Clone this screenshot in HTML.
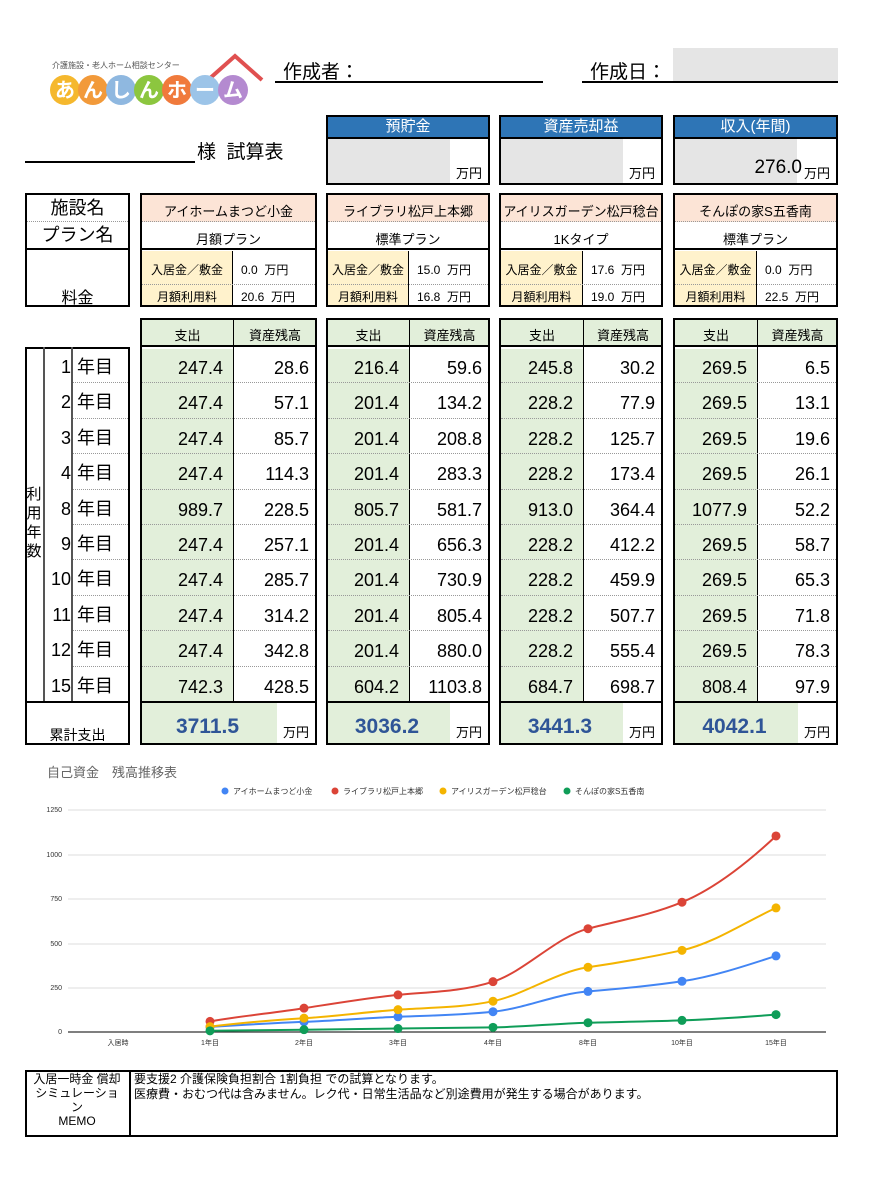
<!DOCTYPE html>
<html><head><meta charset="utf-8">
<style>
*{box-sizing:border-box;margin:0;padding:0}
body{width:878px;height:1200px;background:#fff;position:relative;font-family:"Liberation Sans","Noto Sans CJK JP",sans-serif;color:#000;overflow:hidden}
.a{position:absolute}
.g{background:#e2efda}
.hd{background:#2e75b6;color:#fff;text-align:center;font-size:15px;border:2px solid #000;height:24px;line-height:20px}
</style></head><body>

<div class="a" style="left:52px;top:60px;font-size:8px;color:#555">介護施設・老人ホーム相談センター</div>
<svg class="a" style="left:48px;top:50px" width="220" height="58">
<path d="M160 30 L187 6 L214 30" stroke="#e05050" stroke-width="4" fill="none"/>
<g font-size="20" font-weight="bold" fill="#fff" text-anchor="middle" font-family="Noto Sans CJK JP,sans-serif">
<circle cx="17" cy="40" r="15" fill="#f5b82e"/><text x="17" y="47">あ</text>
<circle cx="45" cy="40" r="15" fill="#f29a3a"/><text x="45" y="47">ん</text>
<circle cx="73" cy="40" r="15" fill="#8fb8e0"/><text x="73" y="47">し</text>
<circle cx="101" cy="40" r="15" fill="#8cc63f"/><text x="101" y="47">ん</text>
<circle cx="129" cy="40" r="15" fill="#f07a3c"/><text x="129" y="47">ホ</text>
<circle cx="157" cy="40" r="15" fill="#9cc4e8"/><text x="157" y="47">ー</text>
<circle cx="185" cy="40" r="15" fill="#b48ad0"/><text x="185" y="47">ム</text>
</g></svg>

<div class="a" style="left:283px;top:57px;font-size:19px">作成者：</div>
<div class="a" style="left:275px;top:81px;width:268px;border-top:2px solid #000"></div>
<div class="a" style="left:590px;top:57px;font-size:19px">作成日：</div>
<div class="a" style="left:673px;top:48px;width:165px;height:34px;background:#e5e5e5"></div>
<div class="a" style="left:582px;top:81px;width:256px;border-top:2px solid #000"></div>

<div class="a" style="left:25px;top:161px;width:170px;border-top:2px solid #000"></div>
<div class="a" style="left:197px;top:137px;font-size:19px">様&nbsp;&nbsp;試算表</div>

<div class="a hd" style="left:326px;top:115px;width:164px">預貯金</div>
<div class="a" style="left:326px;top:137px;width:164px;height:48px;border:2px solid #000"><div class="a" style="left:0;top:0;width:122px;height:44px;background:#e5e5e5"></div><div class="a" style="right:6px;top:24px;font-size:13px">万円</div></div>
<div class="a hd" style="left:499px;top:115px;width:164px">資産売却益</div>
<div class="a" style="left:499px;top:137px;width:164px;height:48px;border:2px solid #000"><div class="a" style="left:0;top:0;width:122px;height:44px;background:#e5e5e5"></div><div class="a" style="right:6px;top:24px;font-size:13px">万円</div></div>
<div class="a hd" style="left:673px;top:115px;width:165px">収入(年間)</div>
<div class="a" style="left:673px;top:137px;width:165px;height:48px;border:2px solid #000"><div class="a" style="left:0;top:0;width:122px;height:44px;background:#e5e5e5"></div><div class="a" style="right:34px;top:18px;font-size:19px">276.0</div><div class="a" style="right:6px;top:24px;font-size:13px">万円</div></div>

<div class="a" style="left:25px;top:193px;width:105px;height:57px;border:2px solid #000;text-align:center;font-size:18px;line-height:26px">施設名<div style="border-top:1px dotted #999"></div>プラン名</div>
<div class="a" style="left:25px;top:250px;width:105px;height:57px;border:2px solid #000;border-top:none;text-align:center;font-size:16px;padding-top:34px">料金</div>

<div id="u"></div>
<div class="a" style="left:25px;top:347px;width:105px;height:398px;border:2px solid #000"></div>
<div class="a" style="left:25px;top:347px;width:20px;height:354px;border-right:2px solid #555;font-size:15px;line-height:19px;text-align:center;padding-top:138px">利<br>用<br>年<br>数</div>
<div class="a" style="left:44px;top:347px;width:29px;height:354px;border-right:2px solid #555"></div>
<div class="a" style="left:25px;top:701px;width:105px;border-top:2px solid #000;font-size:14px;text-align:center;padding-top:22px">累計支出</div>
<div id="yr"></div>
<div id="lo"></div>

<div class="a" style="left:47px;top:762px;font-size:13px;color:#666">自己資金　残高推移表</div>
<svg class="a" style="left:0;top:780px" width="878" height="280" font-family="Liberation Sans,Noto Sans CJK JP,sans-serif">
<g transform="translate(0,-780)">
<g font-size="8" fill="#333">
<circle cx="225" cy="791" r="3.5" fill="#4285f4"/><text x="233" y="794">アイホームまつど小金</text>
<circle cx="335" cy="791" r="3.5" fill="#db4437"/><text x="343" y="794">ライブラリ松戸上本郷</text>
<circle cx="443" cy="791" r="3.5" fill="#f4b400"/><text x="451" y="794">アイリスガーデン松戸稔台</text>
<circle cx="567" cy="791" r="3.5" fill="#0f9d58"/><text x="575" y="794">そんぽの家S五香南</text>
</g>
<g stroke="#ddd" stroke-width="1">
<line x1="68" x2="826" y1="810" y2="810"/><line x1="68" x2="826" y1="855" y2="855"/><line x1="68" x2="826" y1="899" y2="899"/><line x1="68" x2="826" y1="944" y2="944"/><line x1="68" x2="826" y1="988" y2="988"/>
</g>
<line x1="68" x2="826" y1="1032" y2="1032" stroke="#333" stroke-width="1.2"/>
<g font-size="7" fill="#333" text-anchor="end">
<text x="62" y="812">1250</text><text x="62" y="857">1000</text><text x="62" y="901">750</text><text x="62" y="946">500</text><text x="62" y="990">250</text><text x="62" y="1034">0</text>
</g>
<g font-size="7" fill="#333" text-anchor="middle">
<text x="118" y="1045">入居時</text><text x="210" y="1045">1年目</text><text x="304" y="1045">2年目</text><text x="398" y="1045">3年目</text><text x="493" y="1045">4年目</text><text x="588" y="1045">8年目</text><text x="682" y="1045">10年目</text><text x="776" y="1045">15年目</text>
</g>
<g fill="none" stroke-width="2" stroke-linejoin="round">
<path stroke="#0f9d58" d="M210,1030.8 C241,1030.4 273,1030 304,1029.7 S367,1028.9 398,1028.5 S461,1028 493,1027.4 S556,1023.5 588,1022.7 S651,1021.5 682,1020.4 S745,1017 776,1014.6"/>
<path stroke="#4285f4" d="M210,1026.9 C241,1025 273,1023 304,1021.9 S367,1018 398,1016.8 S461,1015 493,1011.7 S556,994 588,991.4 S651,986 682,981.3 S745,966 776,955.9"/>
<path stroke="#f4b400" d="M210,1026.6 C241,1023 273,1020 304,1018.2 S367,1012 398,1009.7 S461,1008 493,1001.2 S556,972 588,967.3 S651,957 682,950.3 S745,922 776,907.9"/>
<path stroke="#db4437" d="M210,1021.4 C241,1016 273,1013 304,1008.2 S367,998 398,994.9 S461,992 493,981.7 S556,937 588,928.7 S651,915 682,902.2 S745,865 776,836"/>
</g>
<g id="dots"></g>
</g></svg>

<div class="a" style="left:25px;top:1070px;width:813px;height:67px;border:2px solid #000"></div>
<div class="a" style="left:25px;top:1070px;width:106px;height:67px;border-right:2px solid #000;font-size:12px;text-align:center;line-height:14px;padding-top:2px">入居一時金 償却<br>シミュレーショ<br>ン<br>MEMO</div>
<div class="a" style="left:134px;top:1072px;font-size:12px;line-height:15px">要支援2 介護保険負担割合 1割負担 での試算となります。<br>医療費・おむつ代は含みません。レク代・日常生活品など別途費用が発生する場合があります。</div>

<script>
var F=[
[140,317,233,"アイホームまつど小金","月額プラン","0.0","20.6",[247.4,247.4,247.4,247.4,989.7,247.4,247.4,247.4,247.4,742.3],[28.6,57.1,85.7,114.3,228.5,257.1,285.7,314.2,342.8,428.5],"3711.5"],
[326,490,409,"ライブラリ松戸上本郷","標準プラン","15.0","16.8",[216.4,201.4,201.4,201.4,805.7,201.4,201.4,201.4,201.4,604.2],[59.6,134.2,208.8,283.3,581.7,656.3,730.9,805.4,"880.0",1103.8],"3036.2"],
[499,663,583,"アイリスガーデン松戸稔台","1Kタイプ","17.6","19.0",[245.8,228.2,228.2,228.2,"913.0",228.2,228.2,228.2,228.2,684.7],[30.2,77.9,125.7,173.4,364.4,412.2,459.9,507.7,555.4,698.7],"3441.3"],
[673,838,757,"そんぽの家S五香南","標準プラン","0.0","22.5",[269.5,269.5,269.5,269.5,1077.9,269.5,269.5,269.5,269.5,808.4],[6.5,13.1,19.6,26.1,52.2,58.7,65.3,71.8,78.3,97.9],"4042.1"]];
var h="";
F.forEach(function(f){var L=f[0],W=f[1]-f[0],S=f[2]-f[0];
h+='<div class="a" style="left:'+L+'px;top:193px;width:'+W+'px;height:114px;border:2px solid #000"></div>';
h+='<div class="a" style="left:'+(L+2)+'px;top:195px;width:'+(W-4)+'px;height:27px;background:#fce4d6;border-bottom:1px dotted #999;font-size:13px;text-align:center;line-height:34px">'+f[3]+'</div>';
h+='<div class="a" style="left:'+L+'px;top:222px;width:'+W+'px;height:28px;font-size:13px;text-align:center;line-height:36px;border-bottom:2px solid #000">'+f[4]+'</div>';
h+='<div class="a" style="left:'+(L+2)+'px;top:251px;width:'+(S-2)+'px;height:54px;background:#fff2cc;border-right:1px solid #000;font-size:12px;text-align:center;line-height:27px;padding-top:6px">入居金／敷金<br>月額利用料</div>';
h+='<div class="a" style="left:'+(L+2)+'px;top:284px;width:'+(W-4)+'px;border-top:1px dotted #999"></div>';
h+='<div class="a" style="left:'+(L+S+8)+'px;top:257px;font-size:12px;line-height:27px">'+f[5]+'&nbsp;&nbsp;万円<br>'+f[6]+'&nbsp;&nbsp;万円</div>';
});
document.getElementById("u").outerHTML=h;
h="";
var yrs=[1,2,3,4,8,9,10,11,12,15];
yrs.forEach(function(y,i){var t=347+i*35.4;
if(i>0)h+='<div class="a" style="left:73px;top:'+t+'px;width:55px;border-top:1px dotted #999"></div>';
h+='<div class="a" style="left:45px;top:'+t+'px;width:26px;height:35px;text-align:right;font-size:18px;line-height:40px">'+y+'</div><div class="a" style="left:77px;top:'+t+'px;font-size:18px;line-height:40px">年目</div>';});
document.getElementById("yr").outerHTML=h;
h="";
function fx(v){return typeof v=="string"?v:v.toFixed(1)}
F.forEach(function(f){var L=f[0],W=f[1]-f[0],S=f[2]-f[0];
h+='<div class="a" style="left:'+L+'px;top:318px;width:'+W+'px;height:427px;border:2px solid #000"></div>';
h+='<div class="a g" style="left:'+(L+2)+'px;top:320px;width:'+(W-4)+'px;height:27px;font-size:13px;line-height:32px;border-bottom:2px solid #000"><span class="a" style="left:0;width:'+(S-2)+'px;text-align:center">支出</span><span class="a" style="left:'+S+'px;width:'+(W-S-4)+'px;text-align:center">資産残高</span></div>';
h+='<div class="a g" style="left:'+(L+2)+'px;top:349px;width:'+(S-2)+'px;height:352px"></div>';
h+='<div class="a" style="left:'+(L+S)+'px;top:320px;width:0;height:381px;border-left:1px solid #000"></div>';
for(var i=0;i<10;i++){var t=347+i*35.4;
if(i>0)h+='<div class="a" style="left:'+(L+2)+'px;top:'+t+'px;width:'+(W-4)+'px;border-top:1px dotted #999"></div>';
h+='<div class="a" style="left:'+L+'px;top:'+t+'px;width:'+(S-10)+'px;text-align:right;font-size:18px;line-height:42px">'+fx(f[7][i])+'</div>';
h+='<div class="a" style="left:'+(L+S)+'px;top:'+t+'px;width:'+(W-S-8)+'px;text-align:right;font-size:18px;line-height:42px">'+fx(f[8][i])+'</div>';}
h+='<div class="a" style="left:'+L+'px;top:701px;width:'+W+'px;border-top:2px solid #000"></div>';
h+='<div class="a g" style="left:'+(L+2)+'px;top:703px;width:'+(W-42)+'px;height:40px"></div>';
h+='<div class="a" style="left:'+L+'px;top:703px;width:'+(W-42)+'px;text-align:center;font-size:21px;font-weight:bold;color:#2f5597;line-height:48px">'+f[9]+'</div>';
h+='<div class="a" style="left:'+(L+W-34)+'px;top:722px;font-size:13px">万円</div>';
});
document.getElementById("lo").outerHTML=h;
var xs=[210,304,398,493,588,682,776],col=["#4285f4","#db4437","#f4b400","#0f9d58"],d="";
[0,1,2,3].forEach(function(k){var b=F[k][8];[0,1,2,3,4,6,9].forEach(function(j,n){var v=parseFloat(b[j]);d+='<circle cx="'+xs[n]+'" cy="'+(1032-v*0.1776)+'" r="4.5" fill="'+col[k]+'"/>';});});
document.getElementById("dots").innerHTML=d;
</script>
</body></html>
